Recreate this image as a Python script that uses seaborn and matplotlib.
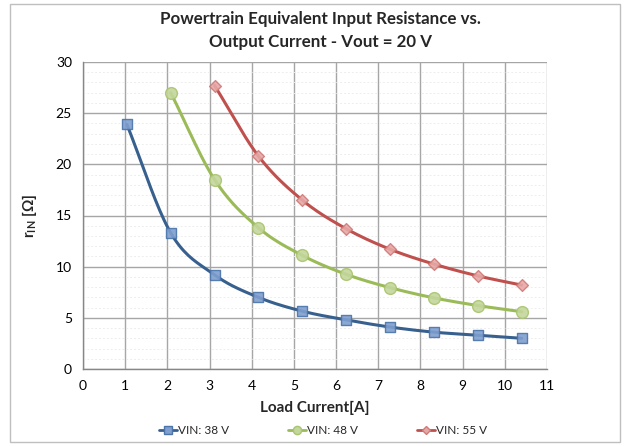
import numpy as np
import pandas as pd
import matplotlib
matplotlib.use("Agg")
import matplotlib.pyplot as plt
from matplotlib.patches import Rectangle
from matplotlib.ticker import MultipleLocator
import seaborn as sns

# ---- data ----
x_38 = [1.04, 2.08, 3.12, 4.16, 5.20, 6.24, 7.28, 8.32, 9.36, 10.40]
r_38 = [23.9, 13.3, 9.2, 7.0, 5.65, 4.8, 4.1, 3.6, 3.3, 3.0]
x_48 = [2.08, 3.12, 4.16, 5.20, 6.24, 7.28, 8.32, 9.36, 10.40]
r_48 = [27.0, 18.5, 13.8, 11.1, 9.25, 7.95, 6.95, 6.2, 5.6]
x_55 = [3.12, 4.16, 5.20, 6.24, 7.28, 8.32, 9.36, 10.40]
r_55 = [27.7, 20.8, 16.5, 13.7, 11.7, 10.25, 9.1, 8.2]
series_names = ["VIN: 38 V", "VIN: 48 V", "VIN: 55 V"]
title = "Powertrain Equivalent Input Resistance vs.\nOutput Current - Vout = 20 V"
xlabel = "Load Current[A]"
ylabel = r"r$_{\mathbf{IN}}$ [Ω]"

sns.set_style("white")
plt.rcParams["font.family"] = ["Lato", "DejaVu Sans"]
plt.rcParams["mathtext.fontset"] = "custom"
plt.rcParams["mathtext.rm"] = "Lato"
plt.rcParams["mathtext.bf"] = "Lato:bold"


def smooth(xs, ys, n=20):
    """Catmull-Rom style display smoothing (like Excel smoothed lines)."""
    xs = np.asarray(xs, float)
    ys = np.asarray(ys, float)
    px = np.concatenate([[2 * xs[0] - xs[1]], xs, [2 * xs[-1] - xs[-2]]])
    py = np.concatenate([[2 * ys[0] - ys[1]], ys, [2 * ys[-1] - ys[-2]]])
    ox, oy = [], []
    t = np.linspace(0, 1, n, endpoint=False)
    for i in range(1, len(px) - 2):
        p0, p1, p2, p3 = [np.array([px[j], py[j]]) for j in (i - 1, i, i + 1, i + 2)]
        c1 = p1 + (p2 - p0) / 6
        c2 = p2 - (p3 - p1) / 6
        for tt in t:
            b = ((1 - tt) ** 3) * p1 + 3 * ((1 - tt) ** 2) * tt * c1 + 3 * (1 - tt) * tt ** 2 * c2 + tt ** 3 * p2
            ox.append(b[0]); oy.append(b[1])
    ox.append(xs[-1]); oy.append(ys[-1])
    return np.array(ox), np.array(oy)


fig = plt.figure(figsize=(6.28, 4.46), dpi=100)
fig.patches.append(Rectangle((10 / 628, 4 / 446), 610 / 628, 438 / 446, transform=fig.transFigure,
                             fill=False, edgecolor="#BFBFBF", linewidth=1.0))
ax = fig.add_axes([83 / 628, 77 / 446, 464 / 628, 307 / 446])

styles = [
    dict(line="#37608F", edge="#4A74AA", face="#7F9FCF", marker="s", ms=7.5),
    dict(line="#9BBB59", edge="#A9C56E", face="#C3D69B", marker="o", ms=8.5),
    dict(line="#C0504D", edge="#D07B78", face="#E6A8A6", marker="D", ms=6.0),
]
data = [(x_38, r_38), (x_48, r_48), (x_55, r_55)]

handles = []
for (xs, ys), name, st in zip(data, series_names, styles):
    sx, sy = smooth(xs, ys)
    sns.lineplot(x=sx, y=sy, ax=ax, color=st["line"], linewidth=2.2, sort=False, estimator=None, zorder=3)
    sns.scatterplot(x=xs, y=ys, ax=ax, marker=st["marker"], s=st["ms"] ** 2,
                    color=st["face"], edgecolor=st["edge"], linewidth=1.0, alpha=0.9, zorder=4)
    h, = ax.plot([], [], color=st["line"], linewidth=2.0, marker=st["marker"], markersize=st["ms"] * 0.7,
                 markerfacecolor=st["face"], markeredgecolor=st["edge"])
    handles.append(h)

ax.set_xlim(0, 11)
ax.set_ylim(0, 30)
ax.xaxis.set_major_locator(MultipleLocator(1))
ax.yaxis.set_major_locator(MultipleLocator(5))
ax.yaxis.set_minor_locator(MultipleLocator(1))
ax.grid(True, which="major", axis="both", color="#A6A6A6", linewidth=1.0, zorder=0)
ax.grid(True, which="minor", axis="y", color="#EDEDED", linewidth=0.7, linestyle=(0, (2, 2)), zorder=0)
ax.set_axisbelow(True)
for s in ["top", "right"]:
    ax.spines[s].set_visible(False)
for s in ["left", "bottom"]:
    ax.spines[s].set_color("#868686")
    ax.spines[s].set_linewidth(1.0)
ax.tick_params(axis="both", which="major", direction="out", length=5, width=1, color="#868686",
               labelsize=10, labelcolor="#000000", pad=3)
ax.tick_params(axis="y", which="minor", length=0)

ax.set_xlabel(xlabel, fontsize=11, fontweight="bold", labelpad=6)
ax.set_ylabel(ylabel, fontsize=11, fontweight="bold", labelpad=12)
fig.text(0.51, 0.975, title, ha="center", va="top", fontsize=12.2, fontweight="bold", linespacing=1.55)

fig.legend(handles, series_names, loc="center", bbox_to_anchor=(0.515, 0.035), ncol=3, frameon=False,
           fontsize=8.5, columnspacing=5.0, handlelength=1.5, handletextpad=0.1)

fig.savefig("out.png", dpi=100, facecolor="white")
